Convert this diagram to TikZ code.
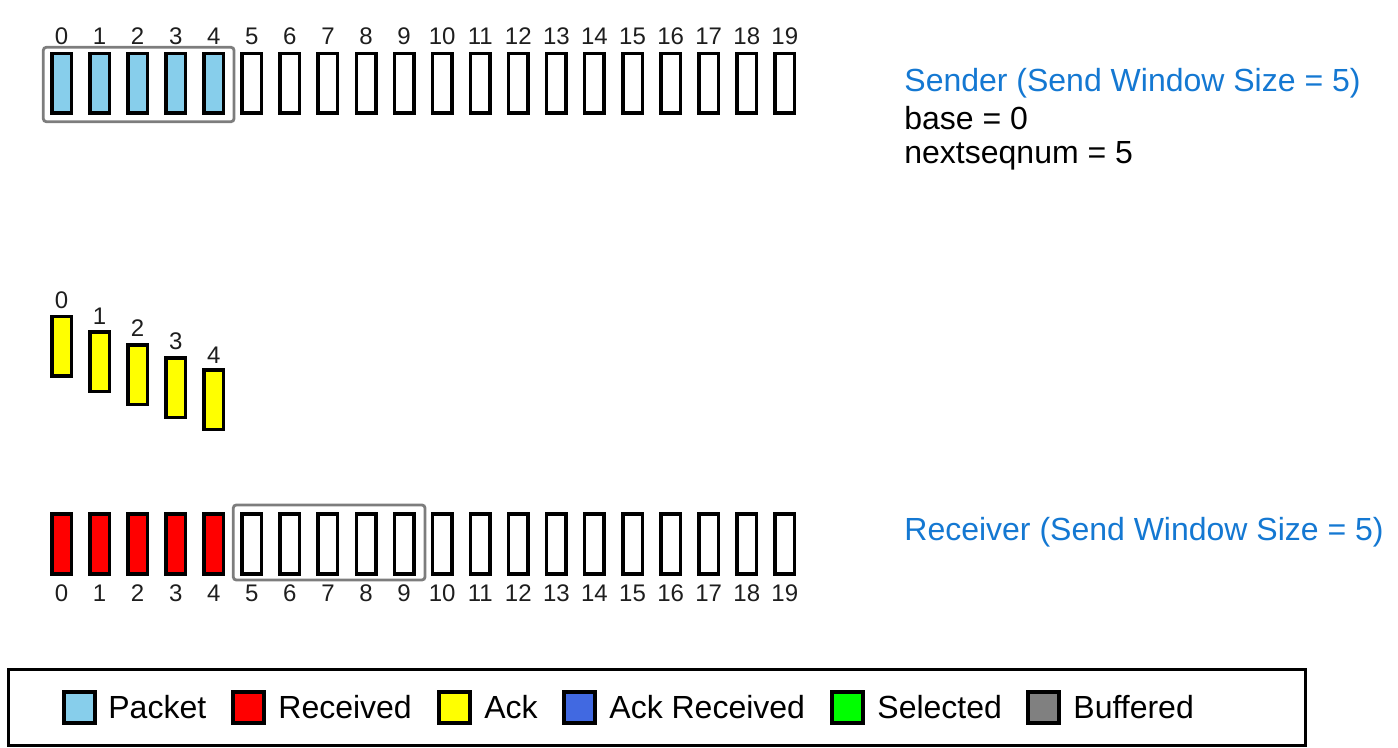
\documentclass[tikz,border=0pt]{standalone}
\usepackage{fontspec}
\setmainfont{Liberation Sans}
\definecolor{pktblue}{RGB}{135,206,235}
\definecolor{rcvred}{RGB}{255,0,0}
\definecolor{ackyel}{RGB}{255,255,0}
\definecolor{ackrcv}{RGB}{65,105,225}
\definecolor{selgreen}{RGB}{0,255,0}
\definecolor{bufgray}{RGB}{128,128,128}
\definecolor{winGray}{RGB}{125,125,125}
\definecolor{titleblue}{RGB}{20,120,210}
\definecolor{numgray}{RGB}{30,30,30}
\tikzset{
  pktbox/.style={draw=black, line width=1.75pt, minimum width=9.75pt, minimum height=29.75pt, inner sep=0pt, fill=white},
  numlbl/.style={font=\fontsize{12}{14}\selectfont, text=numgray, inner sep=0pt},
  wintext/.style={font=\fontsize{16}{19}\selectfont, anchor=base west, inner sep=0pt},
  winrect/.style={draw=winGray, line width=1.4pt, rounded corners=1.5pt},
  swatch/.style={draw=black, line width=2pt, minimum width=15.5pt, minimum height=15.5pt, inner sep=0pt},
  legtext/.style={font=\fontsize{16}{19}\selectfont, anchor=west, inner sep=0pt},
}
\begin{document}
\begin{tikzpicture}[x=0.5pt, y=-0.5pt]
\useasboundingbox (0,0) rectangle (1398,748);
% sender window
\draw[winrect] (43.3,47.3) rectangle (234,121.7);
% receiver window
\draw[winrect] (233.3,505) rectangle (425,580);
\foreach \i in {0,...,19} {
  \pgfmathsetmacro{\xx}{61.5+38.07*\i}
  \ifnum\i<5
    \node[pktbox, fill=pktblue] (s\i) at (\xx,83.5) {};
    \node[pktbox, fill=rcvred] (r\i) at (\xx,544) {};
  \else
    \node[pktbox] (s\i) at (\xx,83.5) {};
    \node[pktbox] (r\i) at (\xx,544) {};
  \fi
  \node[numlbl] (sl\i) at (\xx,36.5) {\i};
  \node[numlbl] (rl\i) at (\xx,593) {\i};
}
% acks
\foreach \i/\yy/\ly in {0/346.3/300, 1/362/316, 2/374.6/328, 3/388/341.7, 4/399.6/355} {
  \pgfmathsetmacro{\xx}{61.5+38.07*\i}
  \node[pktbox, fill=ackyel] (a\i) at (\xx,\yy) {};
  \node[numlbl] (al\i) at (\xx,\ly) {\i};
}
% texts
\node[wintext, text=titleblue] (sendt) at (904,92) {Sender (Send Window Size = 5)};
\node[wintext] (base) at (904,130) {base = 0};
\node[wintext] (nsn) at (904,163.5) {nextseqnum = 5};
\node[wintext, text=titleblue] (recvt) at (904,540) {Receiver (Send Window Size = 5)};
% legend
\draw[black, line width=1.5pt] (8,669) rectangle (1305,745);
\foreach \n/\sx/\tx/\col/\lab in {lp/79.5/108/pktblue/Packet, lr/248.5/278/rcvred/Received, la/454.5/484/ackyel/Ack, lar/579.5/609/ackrcv/Ack Received, ls/847.5/877/selgreen/Selected, lb/1043.5/1073/bufgray/Buffered} {
  \node[swatch, fill=\col] (\n s) at (\sx,707.5) {};
  \node[legtext] (\n t) at (\tx,707) {\lab};
}
\end{tikzpicture}
\end{document}
